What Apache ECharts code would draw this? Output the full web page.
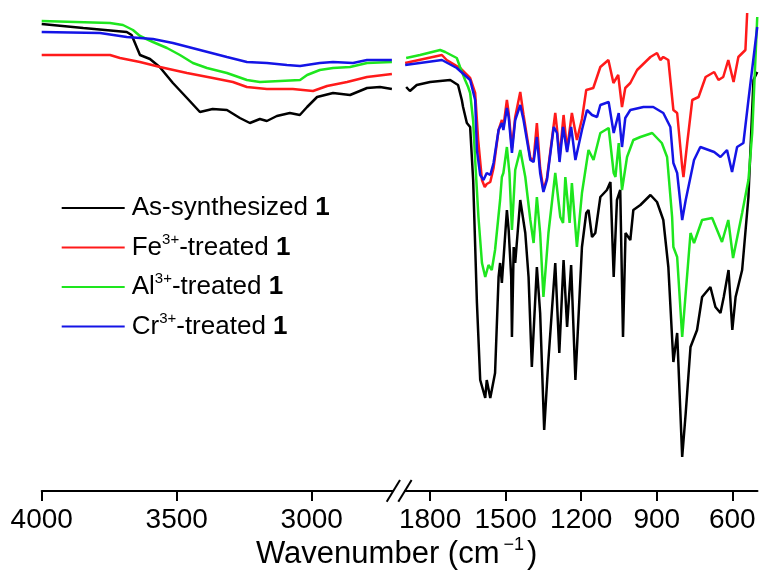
<!DOCTYPE html>
<html><head><meta charset="utf-8">
<script src="https://cdn.jsdelivr.net/npm/echarts@6/dist/echarts.min.js"></script>
<style>html,body{margin:0;padding:0;background:#fff}#c{width:760px;height:571px}</style>
</head><body><div id="c"></div>
<script>
// ---- data (wavenumber cm-1, transmittance a.u.) ----
const seriesNames = ['As-synthesized 1', 'Fe3+-treated 1', 'Al3+-treated 1', 'Cr3+-treated 1'];
const legendLabels = ['As-synthesized {b|1}', 'Fe{sup|3+}-treated {b|1}', 'Al{sup|3+}-treated {b|1}', 'Cr{sup|3+}-treated {b|1}'];
const seriesColors = ['#000000', '#ff1a1a', '#1ee61e', '#1414e6'];
const leftMajorTicks = [4000, 3500, 3000];
const leftMinorTicks = [3750, 3250, 2750];
const rightMajorTicks = [1800, 1500, 1200, 900, 600];
const rightMinorTicks = [1650, 1350, 1050, 750];

const blackLeft = [[4000,467],[3846,463],[3685,459],[3667,456],[3636,436],[3599,432],[3563,424],[3514,408],[3462,393],[3414,379],[3367,382],[3314,381],[3266,373],[3229,368],[3192,372],[3166,370],[3129,375],[3081,378],[3044,376],[3017,384],[2980,394],[2921,398],[2858,396],[2795,403],[2747,404],[2703,402]];
const redLeft = [[4000,436],[3747,436],[3710,433],[3636,429],[3562,424],[3462,418],[3366,413],[3292,409],[3240,404],[3166,402],[3070,402],[2995,400],[2943,405],[2869,409],[2795,414],[2703,417]];
const greenLeft = [[4000,470],[3747,468],[3699,466],[3662,461],[3636,455],[3588,449],[3536,443],[3488,436],[3440,428],[3388,423],[3314,418],[3240,411],[3192,409],[3117,410],[3043,411],[3017,416],[2970,421],[2921,423],[2858,424],[2795,428],[2703,429]];
const blueLeft = [[4000,459],[3784,458],[3685,454],[3636,453],[3588,452],[3514,448],[3414,441],[3314,434],[3240,429],[3166,428],[3092,426],[3043,425],[2970,428],[2921,429],[2847,428],[2795,431],[2703,431]];

const blackRight = [[1895,404],[1880,400],[1853,406],[1800,409],[1760,410],[1720,411],[1689,406],[1674,391],[1669,384],[1654,368],[1641,364],[1629,311],[1614,188],[1601,111],[1581,93],[1575,111],[1561,93],[1542,118],[1528,214],[1522,228],[1515,208],[1495,281],[1488,261],[1478,214],[1475,154],[1468,244],[1462,228],[1442,291],[1422,258],[1409,214],[1396,124],[1376,224],[1363,178],[1347,61],[1331,128],[1303,228],[1287,138],[1270,231],[1256,164],[1240,226],[1223,111],[1197,244],[1180,278],[1171,281],[1157,254],[1144,258],[1124,294],[1098,301],[1084,309],[1071,214],[1058,291],[1045,301],[1034,154],[1024,258],[1005,251],[993,281],[965,286],[925,296],[899,289],[874,271],[854,224],[834,129],[819,158],[799,34],[785,78],[766,144],[740,161],[720,194],[687,204],[667,184],[647,178],[634,194],[615,221],[600,161],[587,194],[561,221],[536,294],[516,411],[501,419]];
const redRight = [[1899,428],[1753,436],[1734,431],[1681,423],[1641,413],[1621,398],[1609,351],[1594,311],[1583,304],[1575,307],[1561,309],[1548,323],[1528,361],[1515,371],[1509,364],[1495,391],[1488,378],[1475,343],[1462,374],[1442,399],[1429,376],[1402,333],[1389,331],[1376,368],[1363,323],[1350,301],[1336,313],[1303,378],[1296,362],[1286,333],[1270,376],[1256,341],[1237,378],[1217,351],[1197,372],[1180,401],[1152,403],[1124,424],[1092,431],[1072,408],[1053,416],[1038,384],[1025,403],[1005,408],[978,421],[925,434],[899,438],[886,431],[874,434],[854,431],[834,381],[819,378],[799,324],[794,314],[779,348],[759,391],[734,394],[706,414],[672,419],[655,411],[636,414],[616,431],[595,409],[576,434],[556,439],[548,441],[541,478]];
const greenRight = [[1895,433],[1840,436],[1760,441],[1740,439],[1694,433],[1681,424],[1661,411],[1649,404],[1641,398],[1629,370],[1621,331],[1608,274],[1594,228],[1581,214],[1568,226],[1555,221],[1542,241],[1522,291],[1515,314],[1509,318],[1495,344],[1485,318],[1475,261],[1462,321],[1442,341],[1422,314],[1402,271],[1389,248],[1376,294],[1363,258],[1350,194],[1330,258],[1303,318],[1283,274],[1272,268],[1263,314],[1246,268],[1237,308],[1217,244],[1197,298],[1171,341],[1151,331],[1124,358],[1091,363],[1071,318],[1064,314],[1051,348],[1038,301],[1018,334],[993,351],[965,354],[918,358],[880,348],[859,334],[839,274],[834,244],[819,234],[799,154],[766,258],[752,248],[720,271],[680,273],[641,249],[616,271],[597,233],[561,278],[536,311],[521,358],[501,474]];
const blueRight = [[1899,426],[1753,431],[1694,423],[1641,411],[1621,391],[1614,341],[1601,316],[1588,311],[1575,318],[1561,316],[1548,328],[1528,361],[1515,368],[1509,361],[1495,383],[1488,374],[1475,338],[1462,371],[1442,386],[1429,371],[1402,331],[1389,329],[1376,354],[1363,318],[1350,299],[1336,311],[1309,364],[1296,358],[1286,329],[1272,364],[1256,339],[1240,364],[1223,331],[1197,361],[1177,381],[1157,376],[1137,374],[1124,386],[1091,389],[1071,358],[1051,378],[1038,344],[1025,373],[1005,381],[953,384],[914,384],[874,378],[846,364],[834,328],[819,318],[799,271],[785,291],[752,331],[727,344],[672,339],[647,334],[621,341],[601,319],[581,344],[556,348],[536,391],[501,464]];

const leftData = [blackLeft, redLeft, greenLeft, blueLeft];
const rightData = [blackRight, redRight, greenRight, blueRight];

// ---- chart ----
const chart = echarts.init(document.getElementById('c'), null, {renderer: 'canvas'});
const FONT = 'Arial, "Liberation Sans", sans-serif';
const axisBase = (gridIndex, min, max, ticks, major) => ({
  type: 'value', gridIndex, min, max, inverse: true,
  axisLine: {show: major, lineStyle: {color: '#000', width: 2}},
  axisTick: {show: true, inside: false, length: major ? 10 : 5, customValues: ticks,
             lineStyle: {color: '#000', width: 2}},
  axisLabel: major ? {show: true, customValues: ticks, margin: 15, color: '#000',
             fontSize: 28, fontFamily: FONT, formatter: (v) => String(v)} : {show: false},
  splitLine: {show: false}
});
const series = [];
for (let i = 0; i < 4; i++) {
  const common = {type: 'line', name: seriesNames[i], showSymbol: false, symbol: 'none',
    smooth: false, color: seriesColors[i], lineStyle: {color: seriesColors[i], width: 2.5},
    animation: false, z: 2 + i};
  series.push(Object.assign({}, common, {xAxisIndex: 0, yAxisIndex: 0, data: leftData[i]}));
  series.push(Object.assign({}, common, {xAxisIndex: 2, yAxisIndex: 1, data: rightData[i]}));
}
const legendMap = {};
seriesNames.forEach((n, i) => legendMap[n] = legendLabels[i]);

chart.setOption({
  animation: false,
  backgroundColor: '#fff',
  grid: [
    {left: 41.7, width: 351, top: 0, bottom: 80},
    {left: 404.9, width: 352.6, top: 0, bottom: 80}
  ],
  xAxis: [
    axisBase(0, 2700, 4000, leftMajorTicks, true),
    axisBase(0, 2700, 4000, leftMinorTicks, false),
    axisBase(1, 500, 1900, rightMajorTicks, true),
    axisBase(1, 500, 1900, rightMinorTicks, false)
  ],
  yAxis: [
    {type: 'value', gridIndex: 0, min: 0, max: 491, show: false},
    {type: 'value', gridIndex: 1, min: 0, max: 491, show: false}
  ],
  legend: {
    orient: 'vertical', left: 56.7, top: 187.5,
    data: seriesNames, icon: 'rect', itemWidth: 63, itemHeight: 2, itemGap: 8.5,
    formatter: (name) => legendMap[name],
    textStyle: {fontSize: 26, color: '#000', fontFamily: FONT, lineHeight: 31, padding: [0, 0, 0, 2],
      rich: {
        b: {fontSize: 26, fontWeight: 'bold', color: '#000', fontFamily: FONT, lineHeight: 31},
        sup: {fontSize: 15, color: '#000', fontFamily: FONT, verticalAlign: 'top', lineHeight: 31, padding: [0, 0, 12, 0]}
      }}
  },
  title: {
    text: 'Wavenumber (cm{sup|−1})', left: 251, top: 531,
    textStyle: {fontSize: 31, fontWeight: 'normal', color: '#000', fontFamily: FONT, lineHeight: 36,
      rich: {sup: {fontSize: 18, color: '#000', fontFamily: FONT, verticalAlign: 'top', lineHeight: 36, padding: [0, 3, 16, 4]}}}
  },
  graphic: [
    {type: 'line', shape: {x1: 386.7, y1: 501.7, x2: 400, y2: 480}, style: {stroke: '#000', lineWidth: 2}},
    {type: 'line', shape: {x1: 398.3, y1: 501.7, x2: 411.6, y2: 480}, style: {stroke: '#000', lineWidth: 2}}
  ],
  series
});
</script>
</body></html>
